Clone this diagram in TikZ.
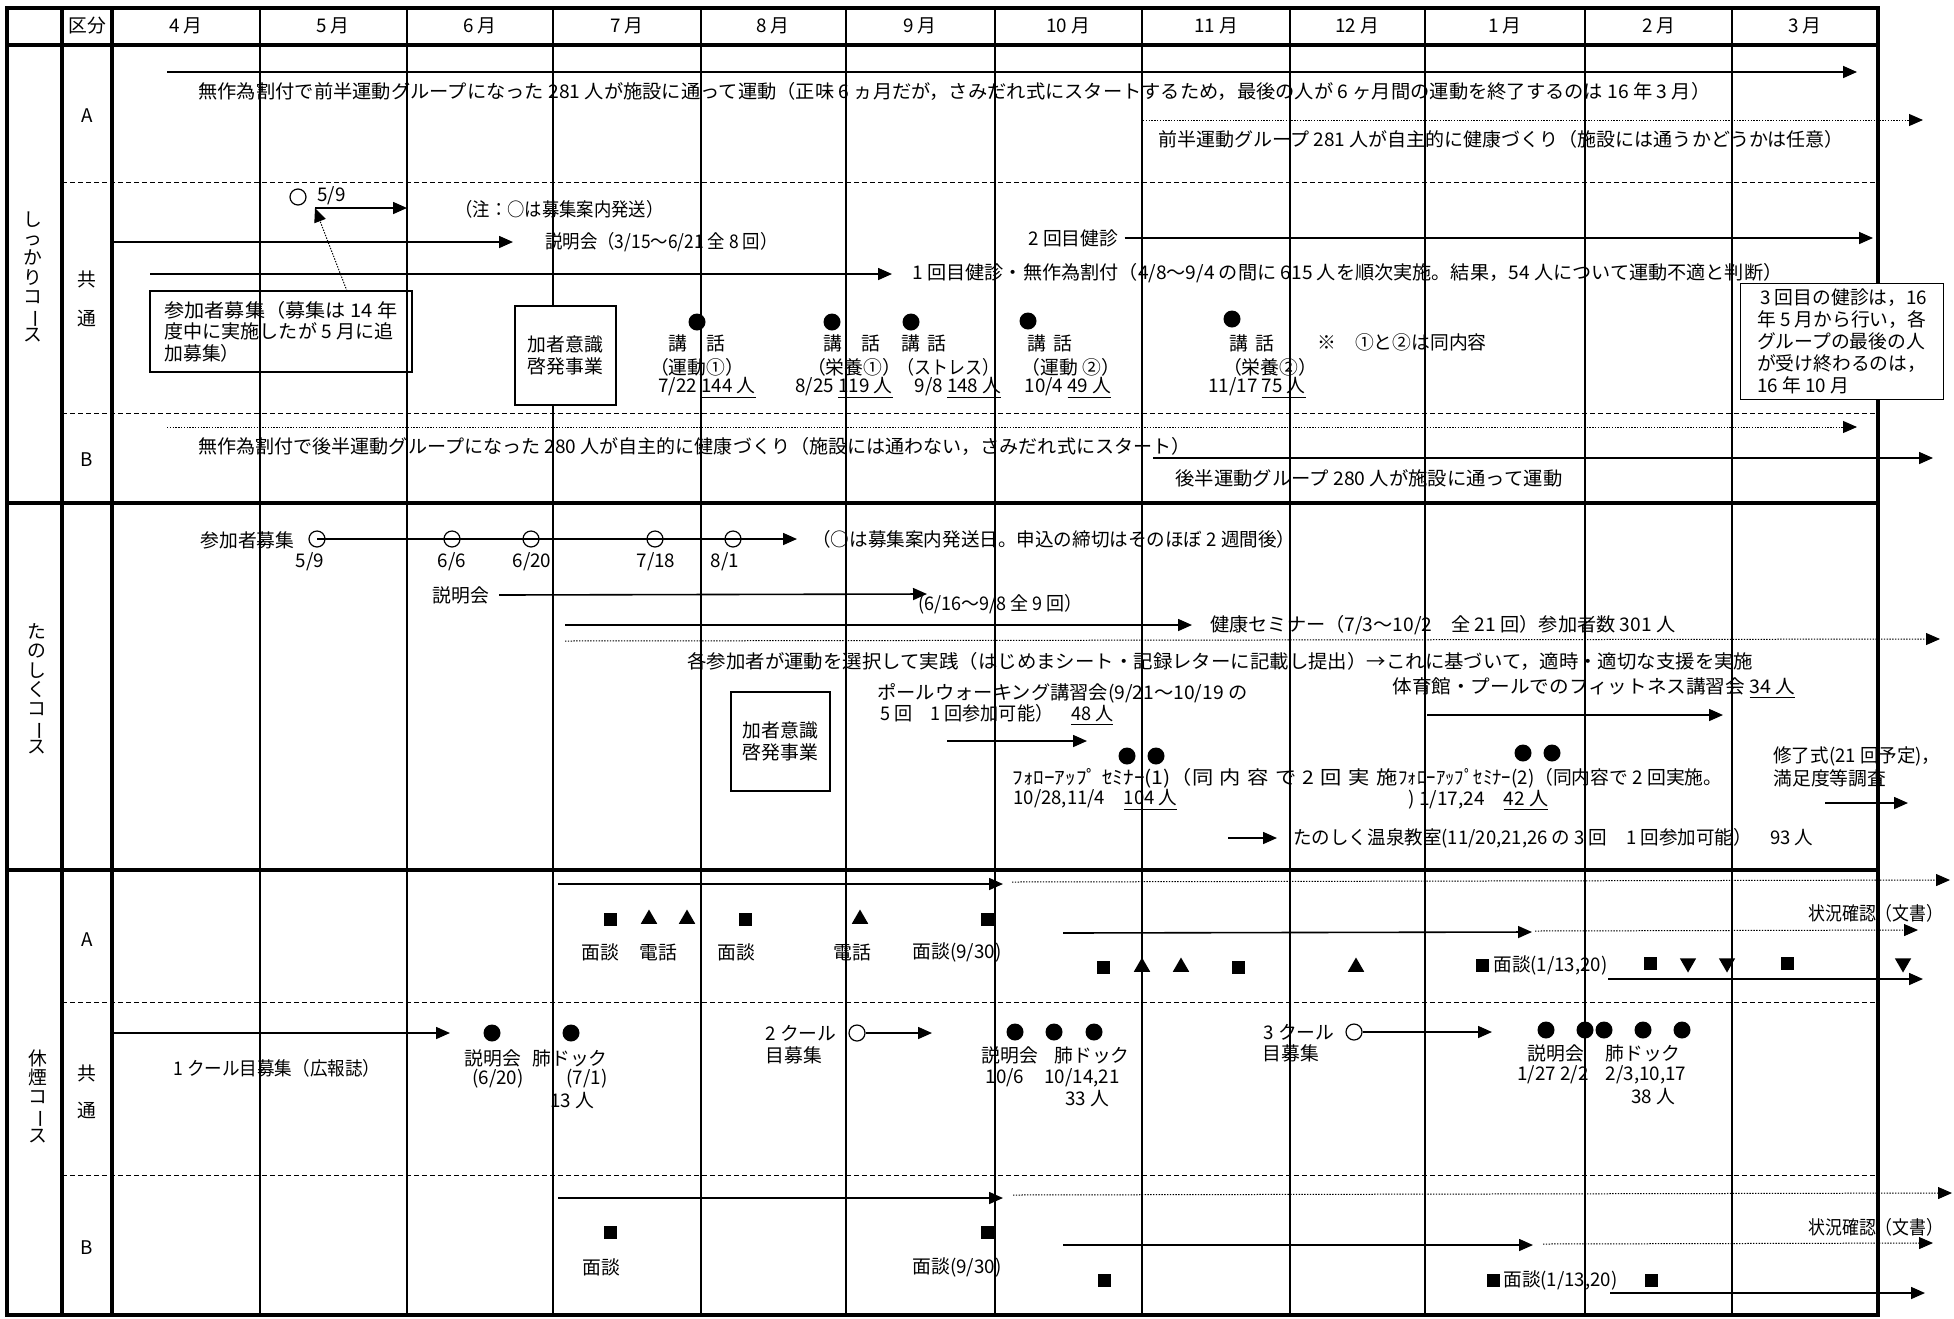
\documentclass[tikz,border=0pt]{standalone}
\usepackage{fontspec}
\usepackage{graphicx}
\setmainfont{Noto Sans CJK JP}
\usetikzlibrary{arrows.meta,shapes.geometric}
\newcommand\fsz{\fontsize{9.4pt}{10.8pt}\selectfont}
\newcommand\tatebar{\rotatebox[origin=c]{-90}{ー}}
\newcommand\gp{\hspace{0.3em}}
\newlength\fitlen
\newcommand\fitto[2]{\settowidth\fitlen{#2}\pgfmathsetmacro\fitr{#1*0.5/\fitlen}\scalebox{\fitr}[1]{#2}}
\begin{document}
\begin{tikzpicture}[x=0.5pt,y=-0.5pt,
  every node/.style={inner sep=0pt,font=\fsz},
  lt/.style={anchor=west},
  bord/.style={line width=1.6pt},
  gridl/.style={line width=0.8pt},
  rowd/.style={line width=0.5pt,dash pattern=on 2.5pt off 1.5pt},
  arr/.style={line width=0.8pt,-{Triangle[length=7pt,width=6pt]}},
  darr/.style={line width=0.5pt,dash pattern=on 0.7pt off 0.7pt,-{Triangle[length=7pt,width=6pt]}},
  dotm/.style={circle,fill=black,minimum size=8.5pt},
  ocirc/.style={circle,draw,line width=0.6pt,minimum size=8pt},
  sq/.style={rectangle,fill=black,minimum size=6.5pt},
  utri/.style={regular polygon,regular polygon sides=3,fill=black,minimum size=9.5pt},
  dtri/.style={utri,shape border rotate=180},
  boxs/.style={draw,line width=0.7pt,fill=white},
  vlab/.style={align=center,font=\fontsize{9.4pt}{9.6pt}\selectfont}
]
\useasboundingbox (0,0) rectangle (1954,1318);

% ---------- grid ----------
\foreach \mx in {260,407,553,701,846,995,1142,1290,1425,1585,1732}
  \draw[gridl] (\mx,8) -- (\mx,1315);
\foreach \ry in {182,413,1002,1175}
  \draw[rowd] (62,\ry) -- (1878,\ry);
\draw[bord] (7,8) rectangle (1878,1315);
\draw[bord] (7,45) -- (1878,45) (7,503) -- (1878,503) (7,870) -- (1878,870)
  (62,8) -- (62,1315) (112,8) -- (112,1315);

% ---------- header ----------
\node (h0) at (87,26) {区分};
\foreach \cx/\lab/\nm in {186/4/h4,333/5/h5,480/6/h6,627/7/h7,773/8/h8,920/9/h9,1068/10/h10,1216/11/h11,1357/12/h12,1505/1/h1,1659/2/h2,1805/3/h3}
  \node (\nm) at (\cx,26) {\lab\ 月};

% ---------- course / row labels ----------
\node[vlab] (cn1) at (33,277) {し\\っ\\か\\り\\コ\\\tatebar\\ス};
\node[vlab] (cn2) at (37,689) {た\\の\\し\\く\\コ\\\tatebar\\ス};
\node[vlab] (cn3) at (38,1096) {休\\煙\\コ\\\tatebar\\ス};
\node (ra1) at (87,116) {A};
\node (rk1) at (87,279) {共};
\node (rt1) at (87,318) {通};
\node (rb1) at (87,460) {B};
\node (ra3) at (87,940) {A};
\node (rk3) at (87,1073) {共};
\node (rt3) at (87,1110) {通};
\node (rb3) at (87,1248) {B};

% ---------- section 1 : A ----------
\draw[arr] (167,72) -- (1857,72);
\node[lt] (a1t) at (198,91) {\fitto{1512}{無作為割付で前半運動グループになった 281 人が施設に通って運動（正味 6 ヵ月だが，さみだれ式にスタートするため，最後の人が 6 ヶ月間の運動を終了するのは 16 年 3 月）}};
\draw[darr] (1143,120) -- (1923,120);
\node[lt] (a2t) at (1158,139) {\fitto{685}{前半運動グループ 281 人が自主的に健康づくり（施設には通うかどうかは任意）}};

% ---------- section 1 : common ----------
\node[ocirc] (c59) at (298,197) {};
\node[lt] (c59t) at (317,196) {5/9};
\coordinate (c59s) at (315,208);
\coordinate (c59e) at (407,208);
\draw[arr] (c59s) -- (c59e);
\node[lt] (note1) at (455,209) {\fitto{208}{（注：○は募集案内発送）}};
\draw[arr] (113,242) -- (513,242);
\node[lt] (expl) at (545,242) {\fitto{232}{説明会（3/15〜6/21 全 8 回）}};
\draw[arr] (150,274) -- (892,274);
\node[lt] (k1) at (912,273) {\fitto{870}{1 回目健診・無作為割付（4/8〜9/4 の間に 615 人を順次実施。結果，54 人について運動不適と判断）}};
\node[lt] (k2) at (1028,238) {2 回目健診};
\coordinate (k2e) at (1873,238);
\draw[arr] ([xshift=3pt]k2.east) -- (k2e);

\node[boxs,fill=none,minimum width=131pt,minimum height=40.5pt,align=left] (rb) at (281,331.5)
  {\fitto{233}{参加者募集（募集は 14 年}\\\fitto{229}{度中に実施したが 5 月に追}\\加募集）};
\coordinate (rbt) at (347,291);
\draw[darr] (rbt) -- (c59s);

\node[boxs,minimum width=50.5pt,minimum height=49.5pt,align=center] (kb1) at (565.5,355.5) {加者意識\\啓発事業};

\node[dotm] (d1) at (697,322) {};
\node (d1a) at (697,343) {講\quad 話};
\node (d1b) at (697,367) {（運動①）};
\node (d1c) at (707,388) {7/22 \underline{144 人}};
\node[dotm] (d2) at (832,322) {};
\node (d2a) at (852,343) {講\quad 話};
\node (d2b) at (854,367) {（栄養①）};
\node (d2c) at (844,388) {8/25 \underline{119 人}};
\node[dotm] (d3) at (911,322) {};
\node (d3a) at (924,343) {講\hspace{0.4em}話};
\node (d3b) at (948,367) {\fitto{102}{（ストレス）}};
\node (d3c) at (958,388) {9/8 \underline{148 人}};
\node[dotm] (d4) at (1028,321) {};
\node (d4a) at (1050,343) {講\hspace{0.4em}話};
\node (d4b) at (1071,367) {（運動 ②）};
\node (d4c) at (1068,388) {10/4 \underline{49 人}};
\node[dotm] (d5) at (1232,319) {};
\node (d5a) at (1252,343) {講\hspace{0.4em}話};
\node (d5b) at (1270,367) {（栄養②）};
\node (d5c) at (1257,388) {11/17 \underline{75 人}};
\node[lt] (note2) at (1317,342) {※\quad ①と②は同内容};

\node[boxs,anchor=north west,minimum width=101.5pt,minimum height=58pt,align=left,font=\fontsize{9.4pt}{11pt}\selectfont] (kb3) at (1740,283)
  {\,3 回目の健診は，16\\年 5 月から行い，各\\グループの最後の人\\が受け終わるのは，\\16 年 10 月};

% ---------- section 1 : B ----------
\draw[darr] (167,427) -- (1857,427);
\node[lt] (b1t) at (198,446) {\fitto{992}{無作為割付で後半運動グループになった 280 人が自主的に健康づくり（施設には通わない，さみだれ式にスタート）}};
\draw[arr] (1153,458) -- (1933,458);
\node[lt] (b2t) at (1175,478) {\fitto{387}{後半運動グループ 280 人が施設に通って運動}};

% ---------- section 2 ----------
\node[lt] (s2a) at (200,540) {参加者募集};
\node[ocirc] (r1) at (317,539) {};
\node[ocirc] (r2) at (452,539) {};
\node[ocirc] (r3) at (531,539) {};
\node[ocirc] (r4) at (655,539) {};
\node[ocirc] (r5) at (733,539) {};
\coordinate (r6) at (797,539);
\draw[arr] (r1.center) -- (r6);
\node (r1l) at (310,562) {5/9};
\node (r2l) at (452,562) {6/6};
\node (r3l) at (532,562) {6/20};
\node (r4l) at (656,562) {7/18};
\node (r5l) at (725,562) {8/1};
\node[lt] (s2n) at (812,539) {\fitto{483}{（○は募集案内発送日。申込の締切はそのほぼ 2 週間後）}};
\node[lt] (s2e) at (432,595) {説明会};
\coordinate (s2ee) at (927,594);
\draw[arr] ([xshift=5pt]s2e.east) -- (s2ee);
\node[lt] (s2e2) at (918,604) {\fitto{164}{(6/16〜9/8 全 9 回）}};
\draw[arr] (565,625) -- (1192,625);
\node[lt] (s2k) at (1210,625) {\fitto{465}{健康セミナー（7/3〜10/2\quad 全 21 回）参加者数 301 人}};
\draw[darr] (565,641) -- (1940,639);
\node[lt] (s2p) at (687,661) {\fitto{1066}{各参加者が運動を選択して実践（はじめまシート・記録レターに記載し提出）→これに基づいて，適時・適切な支援を実施}};
\node[boxs,minimum width=49.5pt,minimum height=49.5pt,align=center] (kb2) at (780.5,741.5) {加者意識\\啓発事業};
\node[lt] (pw1) at (877,693) {\fitto{370}{ポールウォーキング講習会(9/21〜10/19 の}};
\node[lt] (pw2) at (880,715) {\fitto{233}{5 回\quad 1 回参加可能）\quad\underline{48 人}}};
\draw[arr] (947,741) -- (1087,741);
\node[lt] (fit) at (1392,688) {\fitto{403}{体育館・プールでのフィットネス講習会 \underline{34 人}}};
\draw[arr] (1427,715) -- (1723,715);
\node[dotm] (f1) at (1127,756) {};
\node[dotm] (f2) at (1156,756) {};
\node[dotm] (f3) at (1523,753) {};
\node[dotm] (f4) at (1552,753) {};
\node[lt] (fs1a) at (1012,778) {\fitto{385}{ﾌｫﾛｰｱｯﾌﾟ ｾﾐﾅｰ(1)（同\gp 内\gp 容\gp で\gp 2\gp 回\gp 実\gp 施}};
\node[lt] (fs1b) at (1013,800) {\fitto{164}{10/28,11/4\quad\underline{104 人}}};
\node[lt] (fs2a) at (1398,778) {\fitto{324}{ﾌｫﾛｰｱｯﾌﾟｾﾐﾅｰ(2)（同内容で 2 回実施。}};
\node[lt] (fs2b) at (1408,800) {\fitto{140}{) 1/17,24\quad\underline{42 人}}};
\node[lt] (shu1) at (1773,756) {\fitto{167}{修了式(21 回予定)，}};
\node[lt] (shu2) at (1773,778) {満足度等調査};
\draw[arr] (1825,803) -- (1908,803);
\draw[arr] (1228,838) -- (1277,838);
\node[lt] (onsen) at (1293,838) {\fitto{520}{たのしく温泉教室(11/20,21,26 の 3 回\quad 1 回参加可能）\quad 93 人}};

% ---------- section 3 : A ----------
\draw[arr] (558,884) -- (1003,884);
\draw[darr] (1012,882) -- (1950,880);
\node[sq] (m1) at (610,919) {};
\node[utri] (m2) at (649,919) {};
\node[utri] (m3) at (687,919) {};
\node[sq] (m4) at (745,919) {};
\node[utri] (m5) at (860,919) {};
\node[sq] (m6) at (987,919) {};
\node (l1) at (600,952) {面談};
\node (l2) at (658,952) {電話};
\node (l3) at (736,952) {面談};
\node (l4) at (852,952) {電話};
\node[lt] (l5) at (912,952) {面談(9/30)};
\draw[arr] (1063,933) -- (1532,932);
\draw[darr] (1535,931) -- (1918,930);
\node[lt] (jk1) at (1808,913) {\fitto{135}{状況確認（文書）}};
\node[sq] (p1) at (1103,967) {};
\node[utri] (p2) at (1142,967) {};
\node[utri] (p3) at (1181,967) {};
\node[sq] (p4) at (1238,967) {};
\node[utri] (p5) at (1356,967) {};
\node[sq] (p6) at (1482,965) {};
\node[lt] (p6t) at (1493,965) {\fitto{114}{面談(1/13,20)}};
\node[sq] (p7) at (1650,963) {};
\node[dtri] (p8) at (1688,963) {};
\node[dtri] (p9) at (1727,963) {};
\node[sq] (p10) at (1787,963) {};
\node[dtri] (p11) at (1903,963) {};
\draw[arr] (1608,979) -- (1923,979);

% ---------- section 3 : common ----------
\draw[arr] (113,1033) -- (450,1033);
\node[lt] (ku1) at (173,1068) {\fitto{207}{1 クール目募集（広報誌）}};
\node[dotm] (e1) at (492,1033) {};
\node[dotm] (e2) at (571,1033) {};
\node (e1a) at (493,1058) {説明会};
\node (e2a) at (570,1058) {肺ドック};
\node (e1b) at (498,1079) {(6/20)};
\node (e2b) at (587,1079) {(7/1)};
\node (e2c) at (572,1101) {13 人};
\node[lt] (ku2) at (765,1033) {2 クール};
\node[lt] (ku2b) at (765,1055) {目募集};
\node[ocirc] (o2) at (857,1033) {};
\coordinate (o2e) at (932,1033);
\draw[arr] (o2.east) -- (o2e);
\node[dotm] (g1) at (1015,1032) {};
\node[dotm] (g2) at (1054,1032) {};
\node[dotm] (g3) at (1094,1032) {};
\node (g1a) at (1010,1055) {説明会};
\node (g2a) at (1092,1055) {肺ドック};
\node (g1b) at (1005,1078) {10/6};
\node (g2b) at (1082,1078) {10/14,21};
\node (g2c) at (1087,1099) {33 人};
\node[lt] (ku3) at (1263,1032) {3 クール};
\node[lt] (ku3b) at (1262,1053) {目募集};
\node[ocirc] (o3) at (1354,1032) {};
\coordinate (o3e) at (1492,1032);
\draw[arr] (o3.east) -- (o3e);
\node[dotm] (q1) at (1546,1030) {};
\node[dotm] (q2) at (1585,1030) {};
\node[dotm] (q3) at (1604,1030) {};
\node[dotm] (q4) at (1643,1030) {};
\node[dotm] (q5) at (1682,1030) {};
\node (q1a) at (1556,1053) {説明会};
\node (q2a) at (1643,1053) {肺ドック};
\node (q1b) at (1553,1075) {1/27 2/2};
\node (q2b) at (1646,1075) {2/3,10,17};
\node (q2c) at (1653,1097) {38 人};

% ---------- section 3 : B ----------
\draw[arr] (558,1198) -- (1003,1198);
\draw[darr] (1013,1195) -- (1952,1193);
\node[sq] (n1) at (610,1232) {};
\node (n1a) at (601,1267) {面談};
\node[sq] (n2) at (987,1232) {};
\node[lt] (n2a) at (912,1267) {面談(9/30)};
\draw[arr] (1063,1245) -- (1533,1245);
\draw[darr] (1543,1244) -- (1933,1243);
\node[lt] (jk2) at (1808,1227) {\fitto{135}{状況確認（文書）}};
\node[sq] (n3) at (1104,1280) {};
\node[sq] (n4) at (1493,1280) {};
\node[lt] (n4a) at (1503,1280) {\fitto{114}{面談(1/13,20)}};
\node[sq] (n5) at (1651,1280) {};
\draw[arr] (1610,1293) -- (1925,1293);
\end{tikzpicture}
\end{document}
